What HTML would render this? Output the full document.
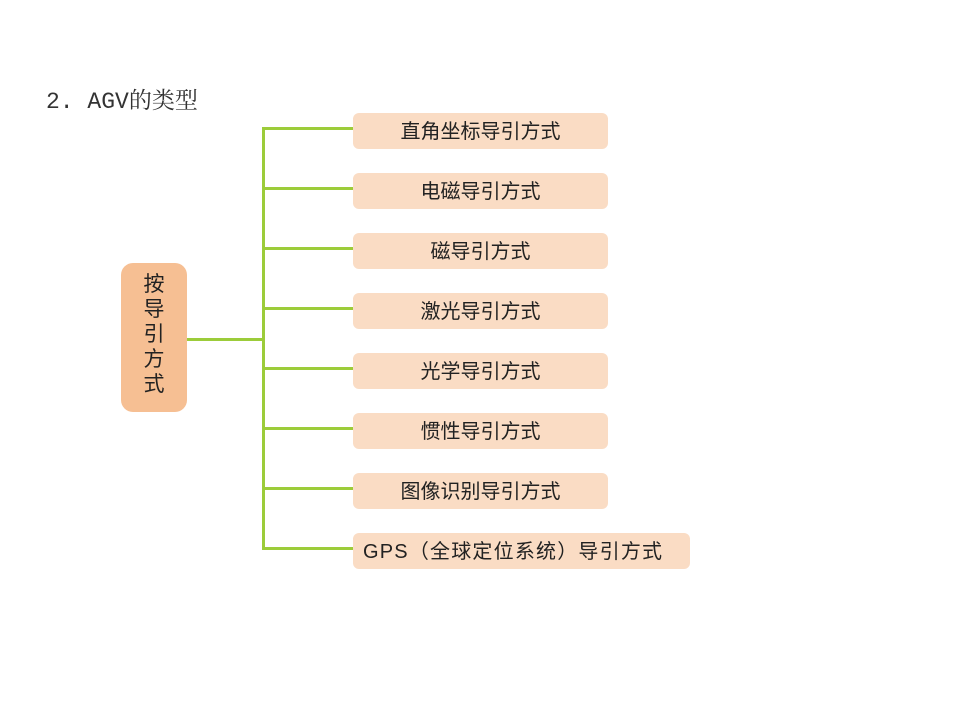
<!DOCTYPE html>
<html><head><meta charset="utf-8"><style>
body{margin:0;width:960px;height:720px;background:#fff;position:relative;overflow:hidden;font-family:"Liberation Sans","Noto Sans CJK SC",sans-serif;}
.t{position:absolute;left:46px;top:82px;font-family:"Liberation Mono","Noto Serif CJK SC",serif;font-size:23px;color:#333;}
.l{position:absolute;background:#9ccc3a;}
.b{position:absolute;left:353px;width:255px;height:36px;background:#fadcc4;border-radius:6px;font-size:20px;line-height:38px;text-align:center;color:#222;}
.m{position:absolute;left:121px;top:263px;width:66px;height:149px;background:#f6bf93;border-radius:12px;font-size:21px;line-height:25px;text-align:center;color:#222;padding-top:9px;box-sizing:border-box;}
</style></head><body>
<div class="t">2. AGV的类型</div>
<div class="l" style="left:187px;top:338px;width:77px;height:3px"></div>
<div class="l" style="left:262px;top:127px;width:3px;height:423px"></div>
<div class="l" style="left:262px;top:127px;width:92px;height:3px"></div>
<div class="l" style="left:262px;top:187px;width:92px;height:3px"></div>
<div class="l" style="left:262px;top:247px;width:92px;height:3px"></div>
<div class="l" style="left:262px;top:307px;width:92px;height:3px"></div>
<div class="l" style="left:262px;top:367px;width:92px;height:3px"></div>
<div class="l" style="left:262px;top:427px;width:92px;height:3px"></div>
<div class="l" style="left:262px;top:487px;width:92px;height:3px"></div>
<div class="l" style="left:262px;top:547px;width:92px;height:3px"></div>
<div class="m">按<br>导<br>引<br>方<br>式</div>
<div class="b" style="top:113px">直角坐标导引方式</div>
<div class="b" style="top:173px">电磁导引方式</div>
<div class="b" style="top:233px">磁导引方式</div>
<div class="b" style="top:293px">激光导引方式</div>
<div class="b" style="top:353px">光学导引方式</div>
<div class="b" style="top:413px">惯性导引方式</div>
<div class="b" style="top:473px">图像识别导引方式</div>
<div class="b" style="top:533px;width:337px;text-align:left;padding-left:10px;box-sizing:border-box;letter-spacing:1.2px">GPS（全球定位系统）导引方式</div>
</body></html>
